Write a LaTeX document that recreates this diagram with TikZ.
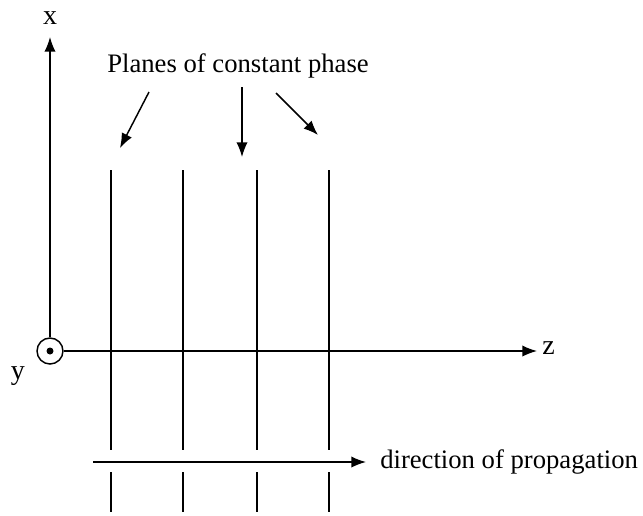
\documentclass[tikz,border=0pt]{standalone}
\usepackage{fontspec}
\setmainfont{Liberation Serif}
\usetikzlibrary{arrows.meta}
\begin{document}
\begin{tikzpicture}[x=0.75pt,y=-0.75pt,
  ln/.style={line width=1.1pt,black},
  arr/.style={ln,-{Latex[length=11pt,width=8.5pt]}},
  lbl/.style={font=\fontsize{20}{22}\selectfont,inner sep=0pt},
  ax/.style={font=\fontsize{21}{23}\selectfont,inner sep=0pt}]
\useasboundingbox (0,0) rectangle (643,515);
% origin symbol
\node (o) [circle,draw,line width=1.1pt,minimum size=26*0.75pt,inner sep=0pt] at (50,351) {};
\fill (o.center) circle (3.5);
% axes
\coordinate (xtip) at (50,37);
\coordinate (ztip) at (537,351);
\draw[arr] (o.north) -- (xtip);
\draw[arr] (o.east) -- (ztip);
\node[ax] (xl) at (50,18) {x};
\node[ax,anchor=west] (zl) at (542,348) {z};
\node[ax] (yl) at (18,376) {y};
% planes
\foreach \px in {111,183,257,329}{
  \draw[ln] (\px,170) -- (\px,450);
  \draw[ln] (\px,472) -- (\px,512);
}
% labels
\node[lbl] (pl) at (238,66) {Planes of constant phase};
\coordinate (a1s) at (149,92); \coordinate (a1e) at (120,148);
\coordinate (a2s) at (242,87); \coordinate (a2e) at (242,157);
\coordinate (a3s) at (276,93); \coordinate (a3e) at (318,135);
\draw[arr] (a1s) -- (a1e);
\draw[arr] (a2s) -- (a2e);
\draw[arr] (a3s) -- (a3e);
% propagation
\coordinate (ps) at (93,462);
\coordinate (pe) at (366,462);
\draw[arr] (ps) -- (pe);
\node[lbl,anchor=west] (dl) at (380,462) {direction of propagation};
\end{tikzpicture}
\end{document}
